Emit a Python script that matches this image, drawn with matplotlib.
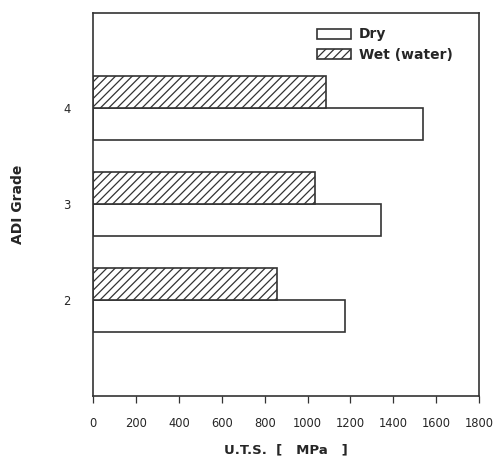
import matplotlib
matplotlib.use("Agg")
import matplotlib.pyplot as plt
import numpy as np

plt.rcParams['font.family'] = ['DejaVu Sans']
plt.rcParams['hatch.linewidth'] = 0.9
plt.rcParams['hatch.color'] = '#444444'

grades = [2, 3, 4]
grade_labels = ['2', '3', '4']
dry_uts = [1175, 1343, 1540]
wet_uts = [858, 1035, 1088]
x_ticks = [0, 200, 400, 600, 800, 1000, 1200, 1400, 1600, 1800]

fig = plt.figure(figsize=(4.95, 4.59), dpi=100)
ax = fig.add_axes([0.188, 0.137, 0.780, 0.835])

edge = '#333333'
txt = '#262626'
h = 0.33
y = np.array(grades, dtype=float)
ax.barh(y - h / 2, dry_uts, height=h, color='white', edgecolor=edge,
        linewidth=1.2, label='Dry')
ax.barh(y + h / 2, wet_uts, height=h, color='white', edgecolor=edge,
        linewidth=1.2, hatch='////', label='Wet (water)')

ax.set_xlim(0, 1800)
ax.set_ylim(1.0, 4.99)
ax.set_xticks(x_ticks)
ax.set_xticklabels([str(t) for t in x_ticks], fontsize=8.3, color=txt)
ax.set_yticks(grades)
ax.set_yticklabels(grade_labels, fontsize=8.3, color=txt)
ax.tick_params(axis='x', direction='out', length=5, width=0.9, color=edge, pad=10)
ax.tick_params(axis='y', length=0, pad=16)
for s in ax.spines.values():
    s.set_color(edge)
    s.set_linewidth(1.2)

ax.set_xlabel('U.T.S.  [   MPa   ]', fontsize=9.5, fontweight='bold', color=txt, labelpad=10)
ax.set_ylabel('ADI Grade', fontsize=10, fontweight='bold', color=txt, labelpad=28)

leg = ax.legend(loc='upper left', bbox_to_anchor=(0.562, 0.980), frameon=False,
                prop={'weight': 'bold', 'size': 10}, borderpad=0,
                handlelength=2.45, handleheight=0.72, handletextpad=0.58,
                labelspacing=0.45)
for t in leg.get_texts():
    t.set_color(txt)

fig.savefig('out.png', dpi=100, facecolor='white')
